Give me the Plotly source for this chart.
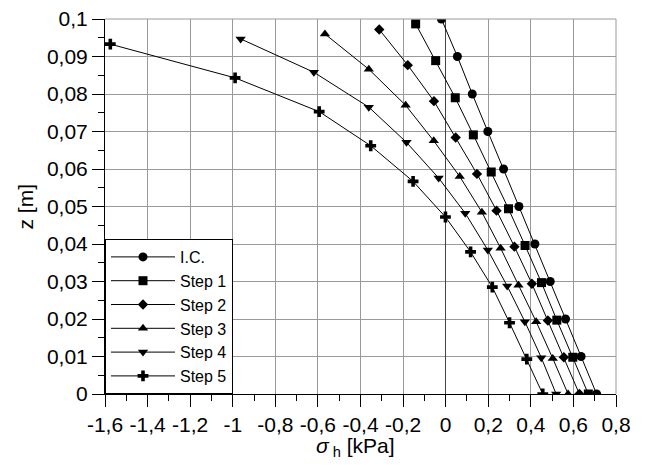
import plotly.graph_objects as go

# ---- data ----
series_names = ["I.C.", "Step 1", "Step 2", "Step 3", "Step 4", "Step 5"]

ic_sigma = [-0.02, 0.055, 0.125, 0.198, 0.272, 0.344, 0.419, 0.491, 0.563, 0.636, 0.709]
ic_z = [0.1, 0.09, 0.08, 0.07, 0.06, 0.05, 0.04, 0.03, 0.02, 0.01, 0.0]

s1_sigma = [-0.141, -0.047, 0.045, 0.130, 0.214, 0.295, 0.373, 0.450, 0.522, 0.597, 0.670]
s1_z = [0.0987, 0.0889, 0.0790, 0.0691, 0.0592, 0.0494, 0.0396, 0.0297, 0.0197, 0.0098, 0.0]

s2_sigma = [-0.312, -0.178, -0.055, 0.047, 0.147, 0.239, 0.323, 0.405, 0.480, 0.555, 0.628]
s2_z = [0.0972, 0.0877, 0.0781, 0.0684, 0.0587, 0.0489, 0.0393, 0.0294, 0.0196, 0.0098, 0.0]

s3_sigma = [-0.567, -0.361, -0.188, -0.056, 0.066, 0.170, 0.258, 0.342, 0.425, 0.503, 0.575]
s3_z = [0.0960, 0.0866, 0.0770, 0.0675, 0.0580, 0.0485, 0.0389, 0.0290, 0.0193, 0.0095, 0.0]

s4_sigma = [-0.963, -0.619, -0.361, -0.184, -0.033, 0.092, 0.198, 0.289, 0.372, 0.449, 0.519]
s4_z = [0.0947, 0.0858, 0.0765, 0.0671, 0.0576, 0.0482, 0.0384, 0.0288, 0.0193, 0.0097, 0.0]

s5_sigma = [-1.575, -0.989, -0.594, -0.352, -0.153, -0.001, 0.117, 0.219, 0.300, 0.381, 0.456]
s5_z = [0.0933, 0.0843, 0.0753, 0.0662, 0.0567, 0.0472, 0.0379, 0.0285, 0.0190, 0.0093, 0.0]

x_tickvals = [-1.6, -1.4, -1.2, -1.0, -0.8, -0.6, -0.4, -0.2, 0.0, 0.2, 0.4, 0.6, 0.8]
x_ticktext = ["-1,6", "-1,4", "-1,2", "-1", "-0,8", "-0,6", "-0,4", "-0,2", "0", "0,2", "0,4", "0,6", "0,8"]
y_tickvals = [0.0, 0.01, 0.02, 0.03, 0.04, 0.05, 0.06, 0.07, 0.08, 0.09, 0.1]
y_ticktext = ["0", "0,01", "0,02", "0,03", "0,04", "0,05", "0,06", "0,07", "0,08", "0,09", "0,1"]

x_title = "<i>σ</i><sub> h</sub> [kPa]"
y_title = "z [m]"

# ---- styling ----
sigmas = [ic_sigma, s1_sigma, s2_sigma, s3_sigma, s4_sigma, s5_sigma]
zs = [ic_z, s1_z, s2_z, s3_z, s4_z, s5_z]
symbols = ["circle", "square", "diamond", "triangle-up", "triangle-down", "cross"]
sizes = [9, 9, 8, 9, 9, 9]

FONT = "Liberation Sans"

fig = go.Figure()
for name, sx, sz, sym, ms in zip(series_names, sigmas, zs, symbols, sizes):
    fig.add_trace(go.Scatter(
        x=sx, y=sz, name=name, mode="lines+markers",
        line=dict(color="black", width=1),
        marker=dict(symbol=sym, size=ms, color="black", line=dict(width=0)),
    ))

grid_c = "#9a9a9a"
fig.update_xaxes(
    range=[-1.6, 0.8], tickvals=x_tickvals, ticktext=x_ticktext,
    showgrid=True, gridcolor=grid_c, gridwidth=1,
    zeroline=True, zerolinecolor="#444444", zerolinewidth=1,
    showline=True, linecolor="black", linewidth=1,
    ticks="outside", ticklen=12, tickcolor="black", tickwidth=1,
    minor=dict(dtick=0.1, ticks="outside", ticklen=6, tickcolor="black", showgrid=False),
    tickfont=dict(size=21, color="black", family=FONT),
    ticklabeloverflow="allow",
    automargin=False,
)
fig.update_yaxes(
    range=[0, 0.1], tickvals=y_tickvals, ticktext=y_ticktext,
    showgrid=True, gridcolor=grid_c, gridwidth=1,
    zeroline=False,
    showline=True, linecolor="black", linewidth=1,
    ticks="outside", ticklen=12, tickcolor="black", tickwidth=1,
    minor=dict(dtick=0.005, ticks="outside", ticklen=6, tickcolor="black", showgrid=False),
    tickfont=dict(size=21, color="black", family=FONT),
    ticklabeloverflow="allow",
    automargin=False,
)

# grey frame on top / right (grid-coloured border)
fig.add_shape(type="line", xref="paper", yref="paper", x0=0, x1=1, y0=1, y1=1,
              line=dict(color=grid_c, width=1))
fig.add_shape(type="line", xref="paper", yref="paper", x0=1, x1=1, y0=0, y1=1,
              line=dict(color=grid_c, width=1))

# axis titles
fig.add_annotation(text=x_title, xref="paper", yref="paper", x=0.49, y=0,
                   yshift=-53, showarrow=False, yanchor="middle",
                   font=dict(size=21, color="black", family=FONT))
fig.add_annotation(text=y_title, xref="paper", yref="paper", x=0, y=0.5,
                   xshift=-80, showarrow=False, textangle=-90, xanchor="center",
                   font=dict(size=21, color="black", family=FONT))

# the page body has an 8px margin: figure is sized to fill the rest of the 646x465 window
fig.update_layout(
    width=638, height=457,
    margin=dict(l=97, r=30, t=11, b=71, autoexpand=False),
    plot_bgcolor="white", paper_bgcolor="white",
    font=dict(family=FONT, color="black", size=20),
    legend=dict(
        x=0, y=0, xanchor="left", yanchor="bottom",
        bgcolor="white", bordercolor="black", borderwidth=1,
        font=dict(size=16, color="black", family=FONT),
        tracegroupgap=0, itemwidth=64,
    ),
)

fig.write_html("out.html")
